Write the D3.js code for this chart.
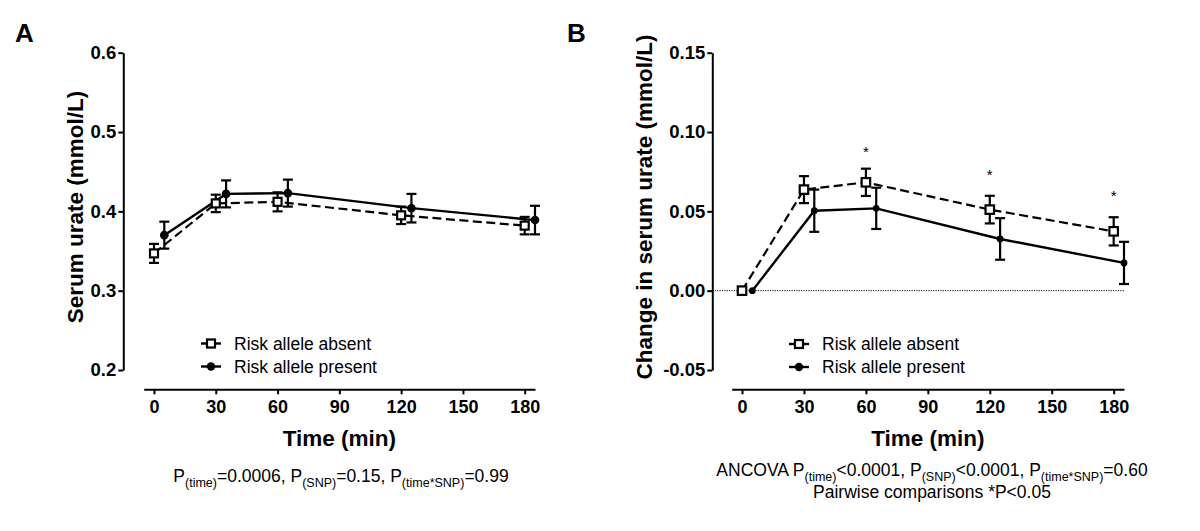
<!DOCTYPE html>
<html>
<head>
<meta charset="utf-8">
<script src="https://cdn.jsdelivr.net/npm/d3@7"></script>
<style>
  html, body { margin: 0; padding: 0; background: #fff; }
  svg { display: block; font-family: "Liberation Sans", Arial, sans-serif; }
</style>
</head>
<body>
<svg id="chart" width="1200" height="531"></svg>
<script>
// ---------------- data ----------------
const times = [0, 30, 60, 120, 180];
const xTickValues = [0, 30, 60, 90, 120, 150, 180];
const seriesNames = ["Risk allele absent", "Risk allele present"];

// Panel A: serum urate (mmol/L), mean and SEM
const absentA = [0.347, 0.410, 0.412, 0.395, 0.382];
const absentASem = [0.012, 0.011, 0.012, 0.011, 0.011];
const presentA = [0.370, 0.422, 0.423, 0.404, 0.389];
const presentASem = [0.017, 0.017, 0.017, 0.018, 0.018];
const yTicksA = [0.2, 0.3, 0.4, 0.5, 0.6];
const yTickLabelsA = ["0.2", "0.3", "0.4", "0.5", "0.6"];

// Panel B: change in serum urate (mmol/L), mean and SEM
const absentB = [0.000, 0.0637, 0.0683, 0.0511, 0.0374];
const absentBSem = [0, 0.0085, 0.0086, 0.0087, 0.0089];
const presentB = [0.000, 0.0504, 0.0519, 0.0326, 0.0175];
const presentBSem = [0, 0.0133, 0.0130, 0.0131, 0.0133];
const yTicksB = [-0.05, 0.00, 0.05, 0.10, 0.15];
const yTickLabelsB = ["-0.05", "0.00", "0.05", "0.10", "0.15"];
const starTimes = [60, 120, 180];
const starValues = [0.0895, 0.0746, 0.0613];

// present group plotted slightly right of nominal time (minutes)
const presentShift = 5;

// ---------------- drawing ----------------
const svg = d3.select("#chart");
const FONT = '"Liberation Sans", Arial, sans-serif';
const axisY0 = 389.3;

function drawPanel(cfg) {
  const g = svg.append("g");
  const x = d3.scaleLinear().domain([-5, 185]).range([cfg.x0, cfg.x1]);
  const y = d3.scaleLinear().domain(cfg.yDomain).range([370, 52.7]);

  // y axis
  const yAxis = d3.axisLeft(y).tickValues(cfg.yTicks)
    .tickFormat((d, i) => cfg.yTickLabels[i]).tickSize(5).tickSizeOuter(0).tickPadding(2);
  const ga = g.append("g").attr("transform", `translate(${cfg.yAxisX},0)`).call(yAxis);
  ga.select(".domain").attr("stroke", "#000").attr("stroke-width", 2);
  ga.selectAll(".tick line").attr("stroke", "#000").attr("stroke-width", 2);
  ga.selectAll(".tick text").attr("font-family", FONT).attr("font-size", 18.5)
    .attr("font-weight", "bold").attr("fill", "#000");

  // x axis
  const xAxis = d3.axisBottom(x).tickValues(xTickValues).tickSize(5).tickSizeOuter(0).tickPadding(6);
  const gx = g.append("g").attr("transform", `translate(0,${axisY0})`).call(xAxis);
  gx.select(".domain").attr("stroke", "#000").attr("stroke-width", 2);
  gx.selectAll(".tick line").attr("stroke", "#000").attr("stroke-width", 2);
  gx.selectAll(".tick text").attr("font-family", FONT).attr("font-size", 18)
    .attr("font-weight", "bold").attr("fill", "#000");

  // axis titles
  g.append("text").attr("x", (cfg.x0 + cfg.x1) / 2).attr("y", 446)
    .attr("text-anchor", "middle").attr("font-size", 22.5).attr("font-weight", "bold")
    .attr("font-family", FONT).text("Time (min)");
  g.append("text")
    .attr("transform", `translate(${cfg.yLabelX},${cfg.yLabelY}) rotate(-90)`)
    .attr("text-anchor", "middle").attr("dominant-baseline", "central")
    .attr("font-size", 22.5).attr("font-weight", "bold").attr("font-family", FONT)
    .text(cfg.yLabel);

  // panel letter
  g.append("text").attr("x", cfg.letterX).attr("y", 42).attr("font-size", 26)
    .attr("font-weight", "bold").attr("font-family", FONT).text(cfg.letter);

  // zero reference line
  if (cfg.zeroLine) {
    g.append("line").attr("x1", cfg.yAxisX).attr("x2", cfg.x1)
      .attr("y1", y(0)).attr("y2", y(0)).attr("stroke", "#000")
      .attr("stroke-width", 1).attr("stroke-dasharray", "1.2,1.2");
  }

  const absent = times.map((t, i) => ({ t: t, v: cfg.absent[i], s: cfg.absentSem[i] }));
  const present = times.map((t, i) => ({ t: t + presentShift, v: cfg.present[i], s: cfg.presentSem[i] }));

  const line = d3.line().x(d => x(d.t)).y(d => y(d.v));

  // error bars
  function errBars(data, cap) {
    const eb = g.append("g").attr("stroke", "#000").attr("stroke-width", 2.2);
    data.filter(d => d.s > 0).forEach(d => {
      eb.append("line").attr("x1", x(d.t)).attr("x2", x(d.t)).attr("y1", y(d.v - d.s)).attr("y2", y(d.v + d.s));
      eb.append("line").attr("x1", x(d.t) - cap / 2).attr("x2", x(d.t) + cap / 2).attr("y1", y(d.v + d.s)).attr("y2", y(d.v + d.s));
      eb.append("line").attr("x1", x(d.t) - cap / 2).attr("x2", x(d.t) + cap / 2).attr("y1", y(d.v - d.s)).attr("y2", y(d.v - d.s));
    });
  }
  errBars(absent, 10);
  errBars(present, 10);

  g.append("path").datum(absent).attr("d", line).attr("fill", "none")
    .attr("stroke", "#000").attr("stroke-width", 2.2).attr("stroke-dasharray", "9,4.5");
  g.append("path").datum(present).attr("d", line).attr("fill", "none")
    .attr("stroke", "#000").attr("stroke-width", 2.4);

  // markers
  const sq = cfg.square;
  g.selectAll(".sq").data(absent).enter().append("rect")
    .attr("x", d => x(d.t) - sq / 2).attr("y", d => y(d.v) - sq / 2)
    .attr("width", sq).attr("height", sq).attr("fill", "#fff")
    .attr("stroke", "#000").attr("stroke-width", 2.2);
  g.selectAll(".ci").data(present).enter().append("circle")
    .attr("cx", d => x(d.t)).attr("cy", d => y(d.v)).attr("r", cfg.radius).attr("fill", "#000");

  // stars
  if (cfg.stars) {
    g.selectAll(".star").data(cfg.stars).enter().append("text")
      .attr("x", d => x(d.t)).attr("y", d => y(d.v) + 8)
      .attr("text-anchor", "middle").attr("font-size", 15).attr("font-family", FONT).text("*");
  }

  // legend
  const lg = g.append("g");
  [0, 1].forEach(i => {
    const ly = cfg.legendY[i];
    const mx = cfg.legendX;
    lg.append("line").attr("x1", mx - 10).attr("x2", mx + 10).attr("y1", ly).attr("y2", ly)
      .attr("stroke", "#000").attr("stroke-width", 2.4);
    if (i === 0) {
      lg.append("rect").attr("x", mx - 4).attr("y", ly - 4).attr("width", 8).attr("height", 8)
        .attr("fill", "#fff").attr("stroke", "#000").attr("stroke-width", 2.2);
    } else {
      lg.append("circle").attr("cx", mx).attr("cy", ly).attr("r", 4.2).attr("fill", "#000");
    }
    lg.append("text").attr("x", mx + 23).attr("y", ly).attr("dominant-baseline", "central")
      .attr("font-size", 17.5).attr("font-family", FONT).text(seriesNames[i]);
  });

  return g;
}

drawPanel({
  letter: "A", letterX: 15,
  x0: 143.7, x1: 535, yAxisX: 123.3,
  yDomain: [0.2, 0.6], yTicks: yTicksA, yTickLabels: yTickLabelsA,
  yLabel: "Serum urate (mmol/L)", yLabelX: 75, yLabelY: 207,
  absent: absentA, absentSem: absentASem, present: presentA, presentSem: presentASem,
  square: 8, radius: 4.3,
  legendX: 211, legendY: [343.5, 366.5]
});

drawPanel({
  letter: "B", letterX: 567,
  x0: 731.7, x1: 1124, yAxisX: 712.3,
  yDomain: [-0.05, 0.15], yTicks: yTicksB, yTickLabels: yTickLabelsB,
  yLabel: "Change in serum urate (mmol/L)", yLabelX: 644, yLabelY: 207,
  absent: absentB, absentSem: absentBSem, present: presentB, presentSem: presentBSem,
  square: 8.5, radius: 3.4, zeroLine: true,
  stars: starTimes.map((t, i) => ({ t: t, v: starValues[i] })),
  legendX: 799, legendY: [344, 367]
});

// statistics captions with subscripts
function caption(xc, yb, parts) {
  const t = svg.append("text").attr("x", xc).attr("y", yb).attr("text-anchor", "middle")
    .attr("font-family", FONT).attr("font-size", 17.5);
  let lowered = false;
  parts.forEach(p => {
    if (p.sub) {
      t.append("tspan").attr("font-size", 12.5).attr("dy", 5).text(p.sub);
      lowered = true;
    } else {
      const ts = t.append("tspan").text(p.txt);
      if (lowered) { ts.attr("dy", -5); lowered = false; }
    }
  });
}
caption(341, 482, [
  { txt: "P" }, { sub: "(time)" }, { txt: "=0.0006, P" }, { sub: "(SNP)" },
  { txt: "=0.15, P" }, { sub: "(time*SNP)" }, { txt: "=0.99" }
]);
caption(932, 476, [
  { txt: "ANCOVA P" }, { sub: "(time)" }, { txt: "<0.0001, P" }, { sub: "(SNP)" },
  { txt: "<0.0001, P" }, { sub: "(time*SNP)" }, { txt: "=0.60" }
]);
svg.append("text").attr("x", 932).attr("y", 498).attr("text-anchor", "middle")
  .attr("font-family", FONT).attr("font-size", 17.5).text("Pairwise comparisons *P<0.05");
</script>
</body>
</html>
